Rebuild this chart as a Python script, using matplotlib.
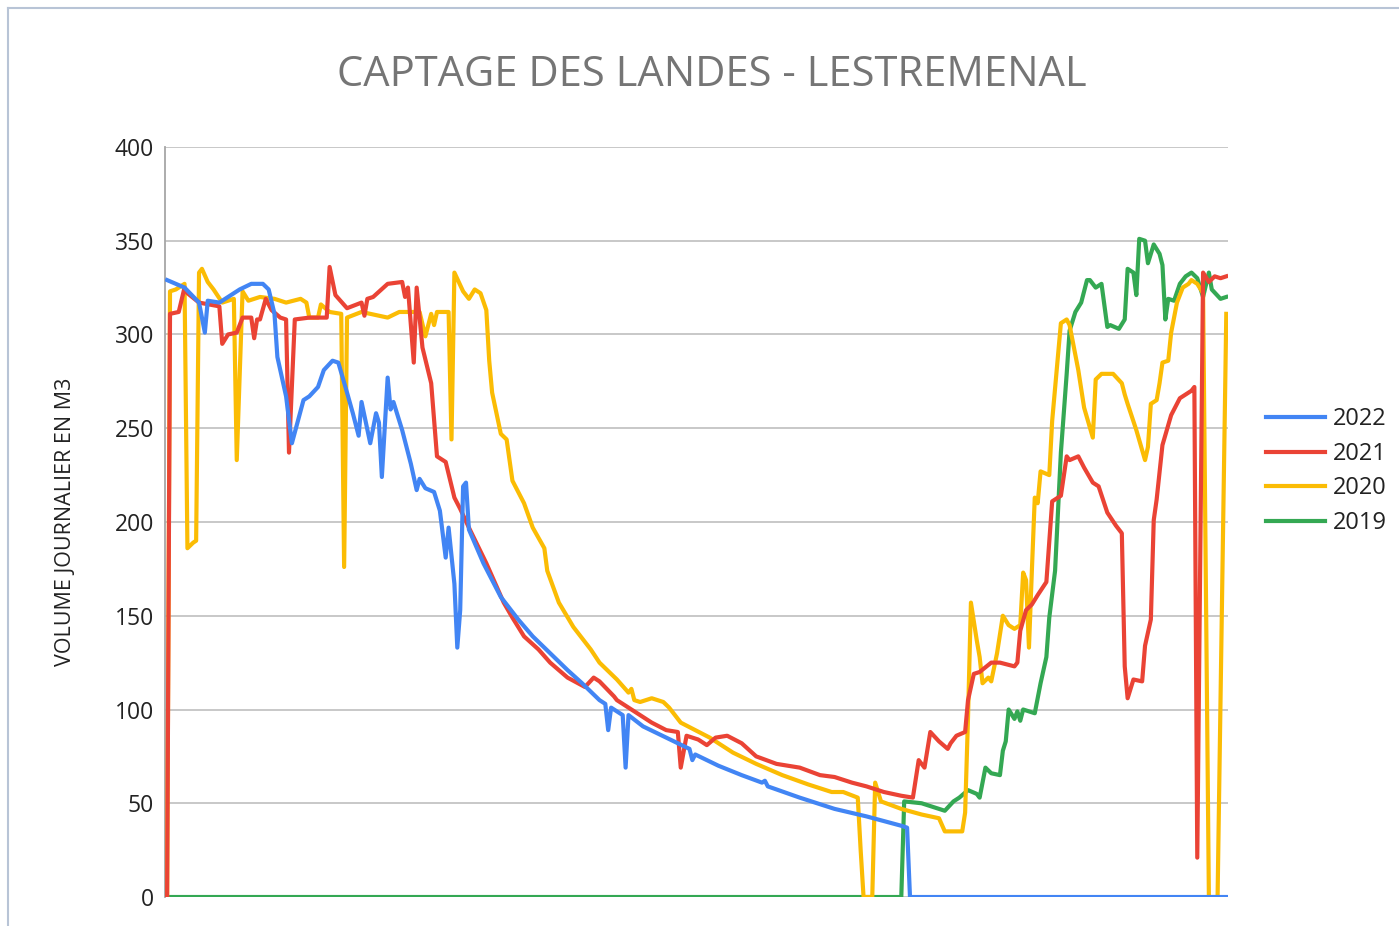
"""Captage des Landes - Lestremenal : volume journalier par annee."""

import matplotlib
matplotlib.use('Agg')
import matplotlib.pyplot as plt
from matplotlib.lines import Line2D

plt.rcParams['font.family'] = ['Open Sans', 'DejaVu Sans']

# jour de l'annee / volume journalier (m3)
days_2022 = [0, 6, 11, 13, 14, 18, 22, 25, 29, 33, 35, 37, 38, 41, 43, 47, 49, 52, 54, 57,
             59, 62, 64, 66, 67, 70, 72, 73, 74, 76, 77, 78, 81, 84, 86, 87, 89, 92, 94, 96,
             97, 99, 100, 101, 102, 103, 104, 109, 115, 121, 126, 132, 138, 143, 149, 151, 152, 153, 157, 158,
             159, 164, 172, 180, 181, 182, 190, 198, 205, 206, 207, 218, 230, 241, 253, 255, 256, 365]
vol_2022 = [329, 325, 317, 301, 318, 317, 321, 324, 327, 327, 324, 311, 288, 267, 242, 265, 267, 272, 281, 286,
            285, 269, 258, 246, 264, 242, 258, 253, 224, 277, 260, 264, 249, 231, 217, 223, 218, 216, 206, 181,
            197, 167, 133, 153, 219, 221, 196, 178, 160, 148, 139, 130, 121, 114, 105, 103, 89, 101, 97, 69,
            97, 91, 85, 79, 73, 76, 70, 65, 61, 62, 59, 53, 47, 43, 38, 37, 0, 0]

days_2021 = [0, 1, 4, 6, 7, 11, 18, 19, 21, 24, 26, 29, 30, 31, 32, 34, 36, 39, 41, 42,
             44, 49, 55, 56, 58, 62, 67, 68, 69, 71, 76, 81, 82, 83, 85, 86, 88, 91, 93, 95,
             96, 99, 101, 104, 110, 116, 119, 123, 128, 132, 138, 144, 147, 149, 154, 155, 161, 167, 172, 176,
             177, 179, 183, 186, 189, 193, 198, 203, 210, 218, 225, 230, 236, 241, 247, 253, 257, 259, 261, 263,
             266, 269, 270, 272, 275, 276, 278, 280, 284, 287, 292, 293, 294, 296, 298, 300, 303, 305, 308, 310,
             311, 314, 316, 319, 321, 324, 327, 329, 330, 331, 333, 336, 337, 339, 340, 341, 343, 346, 349, 353,
             354, 355, 357, 359, 361, 363, 365]
vol_2021 = [0, 311, 312, 325, 322, 317, 315, 295, 300, 301, 309, 309, 298, 308, 308, 319, 313, 309, 308, 237,
            308, 309, 309, 336, 321, 314, 317, 310, 319, 320, 327, 328, 320, 325, 285, 325, 293, 274, 235, 233,
            232, 213, 207, 197, 178, 157, 149, 139, 132, 125, 117, 112, 117, 115, 107, 105, 99, 93, 89, 88,
            69, 86, 84, 81, 85, 86, 82, 75, 71, 69, 65, 64, 61, 59, 56, 54, 53, 73, 69, 88,
            83, 79, 82, 86, 88, 105, 119, 120, 125, 125, 123, 125, 142, 153, 156, 161, 168, 211, 214, 235,
            233, 235, 229, 221, 219, 205, 198, 194, 123, 106, 116, 115, 134, 148, 201, 212, 241, 257, 266, 270,
            272, 21, 333, 328, 331, 330, 331]

days_2020 = [0, 1, 3, 5, 6, 7, 9, 10, 11, 12, 14, 16, 19, 23, 24, 26, 28, 32, 37, 41,
             46, 48, 49, 52, 53, 56, 60, 61, 62, 67, 76, 80, 87, 89, 91, 92, 93, 97, 98, 99,
             102, 104, 106, 108, 110, 111, 112, 115, 117, 119, 122, 123, 126, 130, 131, 135, 140, 146, 149, 155,
             159, 160, 161, 163, 167, 171, 173, 177, 182, 187, 195, 203, 212, 221, 229, 233, 238, 239, 240, 243,
             244, 246, 253, 260, 266, 268, 274, 275, 276, 277, 279, 280, 281, 283, 284, 286, 288, 290, 292, 294,
             295, 296, 297, 298, 299, 300, 301, 304, 305, 308, 310, 311, 314, 316, 319, 320, 322, 326, 329, 330,
             331, 334, 337, 338, 339, 341, 342, 343, 345, 346, 348, 350, 352, 353, 355, 357, 359, 362, 365]
vol_2020 = [0, 323, 324, 326, 327, 186, 189, 190, 333, 335, 328, 324, 317, 319, 233, 323, 318, 320, 319, 317,
            319, 317, 309, 309, 316, 312, 311, 176, 309, 312, 309, 312, 312, 299, 311, 305, 312, 312, 244, 333,
            323, 319, 324, 322, 313, 286, 269, 247, 244, 222, 213, 210, 197, 186, 174, 157, 144, 132, 125, 116,
            109, 111, 105, 104, 106, 104, 101, 93, 89, 85, 77, 71, 65, 60, 56, 56, 53, 25, 0, 0,
            61, 51, 47, 44, 42, 35, 35, 45, 96, 157, 137, 128, 114, 117, 115, 130, 150, 145, 143, 145,
            173, 169, 133, 174, 213, 210, 227, 225, 254, 306, 308, 305, 281, 261, 245, 276, 279, 279, 274, 268,
            263, 249, 233, 240, 263, 265, 274, 285, 286, 301, 317, 325, 327, 329, 327, 322, 0, 0, 311]

days_2019 = [0, 253, 254, 260, 264, 268, 271, 273, 276, 279, 280, 282, 284, 287, 288, 289, 290, 292, 293, 294,
             295, 299, 301, 303, 304, 306, 308, 310, 311, 313, 315, 317, 318, 320, 322, 324, 325, 328, 330, 331,
             333, 334, 335, 337, 338, 340, 342, 343, 344, 345, 347, 349, 351, 353, 355, 357, 359, 360, 363, 365]
vol_2019 = [0, 0, 51, 50, 48, 46, 51, 53, 57, 55, 53, 69, 66, 65, 78, 83, 100, 95, 99, 94,
            100, 98, 114, 128, 149, 174, 237, 279, 302, 312, 317, 329, 329, 325, 327, 304, 305, 303, 308, 335,
            333, 321, 351, 350, 338, 348, 343, 337, 308, 319, 318, 327, 331, 333, 330, 320, 333, 324, 319, 320]

series = [
    ('2022', days_2022, vol_2022, '#4285F4'),
    ('2021', days_2021, vol_2021, '#EA4335'),
    ('2020', days_2020, vol_2020, '#FBBC04'),
    ('2019', days_2019, vol_2019, '#34A853'),
]

W, H = 1399, 926
fig = plt.figure(figsize=(W / 100, H / 100), dpi=100)
ax = fig.add_axes([0.118, 0.0313, 0.760, 0.810])

# draw 2019 first so the others sit on top, like the original
for label, x, y, color in reversed(series):
    ax.plot(x, y, color=color, linewidth=3.0, solid_joinstyle='round', zorder=3)

ax.set_xlim(-0.7, 365.7)
ax.set_ylim(0, 400)
ax.set_yticks(range(0, 401, 50))
ax.set_xticks([])
ax.tick_params(axis='y', length=0, pad=8, labelsize=16.5, labelcolor='#222222')
ax.grid(axis='y', color='#c4c4c4', linewidth=1.3)
ax.set_axisbelow(True)
for side in ['top', 'right', 'bottom']:
    ax.spines[side].set_visible(False)
ax.spines['left'].set_color('#a6a6a6')
ax.spines['left'].set_linewidth(1.3)

ax.set_ylabel('VOLUME JOURNALIER EN M3', fontsize=15.5, color='#222222', labelpad=28)

fig.text(0.509, 0.919, 'CAPTAGE DES LANDES - LESTREMENAL', fontsize=30, color='#757575',
         ha='center', va='center')

# legende a droite (positions en pixels de la figure)
for i, (label, _, _, color) in enumerate(series):
    y = 1 - (417 + i * 34.7) / H
    fig.add_artist(Line2D([1266 / W, 1325 / W], [y, y], color=color, linewidth=3))
    fig.text(1333 / W, y - 0.002, label, fontsize=17, color='#222222', ha='left', va='center')

# cadre gris en haut et a gauche
fig.add_artist(Line2D([0.0058, 1.0], [0.9914, 0.9914], color='#b8c4d6', linewidth=1.5))
fig.add_artist(Line2D([0.0058, 0.0058], [0.0, 0.9914], color='#b8c4d6', linewidth=1.5))

fig.savefig('out.png', dpi=100, facecolor='white')
